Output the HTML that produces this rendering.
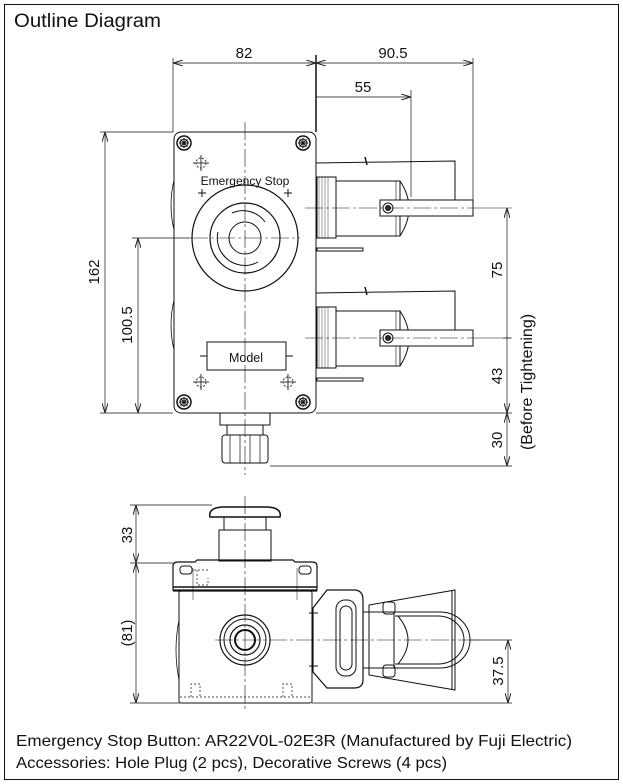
<!DOCTYPE html>
<html><head><meta charset="utf-8"><style>
html,body{margin:0;padding:0;background:#fff}
svg{display:block}
text{font-family:"Liberation Sans",sans-serif;fill:#111}
</style></head><body>
<svg width="623" height="784" viewBox="0 0 623 784" xmlns="http://www.w3.org/2000/svg">
<defs>
<marker id="a" viewBox="0 0 10 6" refX="10" refY="3" markerWidth="10" markerHeight="6" orient="auto-start-reverse" markerUnits="userSpaceOnUse"><path d="M0,0 L10,3 L0,6" fill="none" stroke="#222" stroke-width="1"/></marker>
<g id="scr"><circle r="7" fill="none" stroke="#111" stroke-width="1.5"/><circle r="4" fill="none" stroke="#111"/><path d="M-5,0H5M0,-5V5M-3.5,-3.5L3.5,3.5M-3.5,3.5L3.5,-3.5" stroke="#111" stroke-width="1"/></g>
<g id="tgt"><circle r="5" fill="none" stroke="#333" stroke-dasharray="2,1.5"/><path d="M-8,0H8M0,-8V8" stroke="#333"/></g>
</defs>
<rect x="4.5" y="4.5" width="614" height="775" fill="none" stroke="#111" stroke-width="1"/>
<text x="14" y="27" font-size="19" textLength="147" lengthAdjust="spacingAndGlyphs">Outline Diagram</text>

<g fill="none" stroke="#111" stroke-width="1">
<line x1="173" y1="58" x2="173" y2="132" stroke-width="0.7"/>
<line x1="316" y1="55" x2="316" y2="132" stroke-width="1.5"/>
<line x1="473" y1="58" x2="473" y2="206" stroke-width="0.7"/>
<line x1="411" y1="90" x2="411" y2="197" stroke-width="0.7"/>
<line x1="173" y1="63" x2="316" y2="63" marker-start="url(#a)" marker-end="url(#a)" stroke-width="0.7"/>
<line x1="316" y1="63" x2="473" y2="63" marker-start="url(#a)" marker-end="url(#a)" stroke-width="0.7"/>
<line x1="316" y1="97" x2="411" y2="97" marker-end="url(#a)" stroke-width="0.7"/>
<line x1="100" y1="132" x2="173" y2="132" stroke-width="0.7"/>
<line x1="100" y1="413" x2="173" y2="413" stroke-width="0.7"/>
<line x1="132" y1="238" x2="190" y2="238" stroke-width="0.7"/>
<line x1="105" y1="132" x2="105" y2="413" marker-start="url(#a)" marker-end="url(#a)" stroke-width="0.7"/>
<line x1="138" y1="238" x2="138" y2="413" marker-start="url(#a)" marker-end="url(#a)" stroke-width="0.7"/>
<rect x="174" y="132" width="142" height="281" rx="7"/>
<path d="M174,180 Q168,205 174,230 M174,300 Q168,325 174,350" stroke-width="0.8"/>
<line x1="245" y1="122" x2="245" y2="475" stroke-width="0.6" stroke-dasharray="18,3,3,3"/>
<line x1="190" y1="238" x2="300" y2="238" stroke-width="0.6" stroke-dasharray="18,3,3,3"/>
<circle cx="245" cy="238" r="53" stroke-width="1.2"/>
<circle cx="245" cy="238" r="35" stroke-width="1.2"/>
<circle cx="245" cy="238" r="16"/>
<path d="M232,213 A27,27 0 0 1 265,222 M258,262 A27,27 0 0 1 222,253 M218,232 A27,27 0 0 0 226,258" stroke-width="1"/>
<rect x="207" y="342" width="79" height="28"/>
<line x1="200" y1="356" x2="207" y2="356"/><line x1="286" y1="356" x2="293" y2="356"/>
<line x1="202" y1="189" x2="202" y2="197"/><line x1="198" y1="193" x2="206" y2="193"/>
<line x1="288" y1="189" x2="288" y2="197"/><line x1="284" y1="193" x2="292" y2="193"/>
<rect x="220" y="413" width="50" height="12"/>
<rect x="227" y="425" width="36" height="10"/>
<rect x="222" y="435" width="46" height="28" rx="3"/>
<path d="M230,435V463M240,435V463M250,435V463M260,435V463" stroke-width="0.7"/>
<line x1="316" y1="413" x2="512" y2="413" stroke-width="0.8"/>
<line x1="270" y1="466" x2="512" y2="466" stroke-width="0.7"/>
<line x1="507" y1="208" x2="507" y2="413" marker-start="url(#a)" marker-end="url(#a)" stroke-width="0.7"/>
<path d="M503,338H511" stroke-width="0.7"/>
<line x1="507" y1="413" x2="507" y2="466" marker-start="url(#a)" marker-end="url(#a)" stroke-width="0.7"/>
</g>
<g fill="none" stroke="#111" stroke-width="1">
<g id="unit">
<rect x="317" y="177" width="19" height="61"/>
<path d="M319,177V238M322,177V238M325,177V238M328,177V238" stroke-width="0.4"/>
<rect x="336" y="181" width="64" height="55"/>
<path d="M400,181 Q418,208 400,236" />
<line x1="396" y1="181" x2="396" y2="236" stroke-width="0.6"/>
<rect x="380" y="200" width="93" height="16" fill="#fff"/>
<circle cx="388" cy="208" r="5"/><circle cx="388" cy="208" r="2.5" fill="#333"/>
<path d="M316,163 L455,161 L455,200" stroke-width="1"/>
<path d="M365,157 L367,165" stroke-width="1.5"/>
<line x1="305" y1="208" x2="480" y2="208" stroke-width="0.6" stroke-dasharray="18,3,3,3"/>
<line x1="480" y1="208" x2="512" y2="208" stroke-width="0.6"/>
<rect x="317" y="248" width="46" height="3"/>
</g>
<use href="#unit" transform="translate(0,130)"/>
</g>
<use href="#scr" x="184" y="143"/><use href="#scr" x="303" y="143"/>
<use href="#scr" x="184" y="402"/><use href="#scr" x="303" y="402"/>
<use href="#tgt" x="201" y="163"/><use href="#tgt" x="201" y="382"/><use href="#tgt" x="288" y="382"/>
<text x="245" y="185" font-size="12" text-anchor="middle">Emergency Stop</text>
<text x="246" y="362" font-size="12.5" text-anchor="middle">Model</text>
<text x="244" y="58" font-size="15" text-anchor="middle">82</text>
<text x="393" y="58" font-size="15" text-anchor="middle">90.5</text>
<text x="363" y="92" font-size="15" text-anchor="middle">55</text>
<text transform="translate(99,272) rotate(-90)" font-size="15" text-anchor="middle">162</text>
<text transform="translate(132,325) rotate(-90)" font-size="15" text-anchor="middle">100.5</text>
<text transform="translate(502,270) rotate(-90)" font-size="15" text-anchor="middle">75</text>
<text transform="translate(502,376) rotate(-90)" font-size="15" text-anchor="middle">43</text>
<text transform="translate(502,440) rotate(-90)" font-size="15" text-anchor="middle">30</text>
<text transform="translate(532,382) rotate(-90)" font-size="16" text-anchor="middle">(Before Tightening)</text>

<g fill="none" stroke="#111" stroke-width="1">
<line x1="130" y1="505" x2="212" y2="505" stroke-width="0.7"/>
<line x1="130" y1="563" x2="173" y2="563" stroke-width="0.7"/>
<line x1="130" y1="703" x2="180" y2="703" stroke-width="0.7"/>
<line x1="136" y1="505" x2="136" y2="563" marker-start="url(#a)" marker-end="url(#a)" stroke-width="0.7"/>
<line x1="136" y1="563" x2="136" y2="703" marker-start="url(#a)" marker-end="url(#a)" stroke-width="0.7"/>
<path d="M210,517 Q208,508 222,507 H268 Q282,508 280,517 Z" stroke-width="1.5"/>
<line x1="224" y1="517" x2="224" y2="530"/><line x1="266" y1="517" x2="266" y2="530"/>
<rect x="219" y="530" width="52" height="31"/>
<path d="M173,590 V566 Q173,562 178,562 H195 L197,560 H293 L295,562 H312 Q317,562 317,566 V590 Z" stroke-width="1.2"/>
<line x1="173" y1="587" x2="317" y2="587" stroke-width="1.5"/>
<line x1="173" y1="591" x2="317" y2="591" stroke-width="1.2"/>
<rect x="179" y="591" width="133" height="112" rx="2"/>
<path d="M179,620 Q173,650 179,680" stroke-width="0.8"/>
<rect x="180" y="566" width="12" height="8" rx="3"/><rect x="299" y="566" width="12" height="8" rx="3"/>
<path d="M193,568 V600 M297,568 V600" stroke-width="0.5"/>
<path d="M194,570 H208 M197,570 V585 H208 V578" stroke-dasharray="2,2" stroke-width="0.7"/>
<path d="M180,697 H310 M191,697 V684 H200 V697 M283,697 V684 H292 V697" stroke-dasharray="2,2" stroke-width="0.7"/>
<line x1="245" y1="496" x2="245" y2="712" stroke-width="0.6" stroke-dasharray="18,3,3,3"/>
<line x1="215" y1="640" x2="480" y2="640" stroke-width="0.6" stroke-dasharray="18,3,3,3"/>
<circle cx="245" cy="640" r="25" stroke-width="1.2"/>
<circle cx="245" cy="640" r="21"/>
<circle cx="245" cy="640" r="15" stroke-width="1.2"/>
<circle cx="245" cy="640" r="10" stroke-width="2"/>
<path d="M327,590 H354 Q363,590 363,600 V680 Q363,688 354,688 H327 L313,672 V608 Z" stroke-width="1.2"/>
<rect x="336" y="600" width="20" height="76" rx="9"/>
<rect x="340" y="606" width="12" height="64" rx="6"/>
<path d="M309,613 H318 M309,666 H318"/>
<path d="M363,612 H394 V668 H363"/>
<path d="M369,605 L455,590 V690 L369,675 Z"/>
<path d="M452,590 V690" />
<rect x="383" y="602" width="12" height="12" rx="3"/><rect x="383" y="665" width="12" height="12" rx="3"/>
<path d="M395,612 H440 A30,28 0 0 1 440,668 H395"/>
<path d="M395,616 H438 A26,24 0 0 1 438,664 H395"/>
<path d="M398,616 Q418,640 398,664"/>
<line x1="470" y1="640" x2="512" y2="640" stroke-width="0.7"/>
<line x1="312" y1="703" x2="512" y2="703" stroke-width="0.7"/>
<line x1="508" y1="640" x2="508" y2="703" marker-start="url(#a)" marker-end="url(#a)" stroke-width="0.7"/>
</g>
<text transform="translate(132,535) rotate(-90)" font-size="15" text-anchor="middle">33</text>
<text transform="translate(132,633) rotate(-90)" font-size="15" text-anchor="middle">(81)</text>
<text transform="translate(503,671) rotate(-90)" font-size="15" text-anchor="middle">37.5</text>

<text x="16" y="746" font-size="16" textLength="556" lengthAdjust="spacingAndGlyphs">Emergency Stop Button: AR22V0L-02E3R (Manufactured by Fuji Electric)</text>
<text x="16" y="768" font-size="16" textLength="431" lengthAdjust="spacingAndGlyphs">Accessories: Hole Plug (2 pcs), Decorative Screws (4 pcs)</text>
</svg>
</body></html>
